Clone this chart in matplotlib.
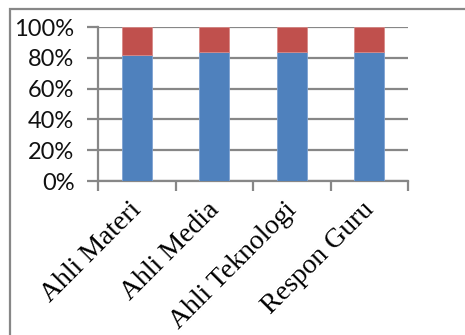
import numpy as np
import matplotlib
matplotlib.use("Agg")
import matplotlib.pyplot as plt
from matplotlib.patches import Rectangle
from matplotlib.ticker import PercentFormatter

# data
kategori = ["Ahli Materi", "Ahli Media", "Ahli Teknologi", "Respon Guru"]
layak = [82, 84, 84, 84]
tidak_layak = [18, 16, 16, 16]

biru = "#4F81BD"
merah = "#C0504D"
abu = "#878787"

fig = plt.figure(figsize=(4.65, 3.35), dpi=100)
ax = fig.add_axes([98 / 465, 1 - 181 / 335, 310 / 465, 154 / 335])

x = np.arange(len(kategori))
ax.bar(x, layak, width=0.39, color=biru, edgecolor="#7FA3D3", linewidth=0.6, zorder=3)
ax.bar(x, tidak_layak, bottom=layak, width=0.39, color=merah, edgecolor="#D88A88",
       linewidth=0.6, zorder=3)

ax.set_xlim(-0.5, len(kategori) - 0.5)
ax.set_ylim(0, 100)
ax.set_yticks(np.arange(0, 101, 20))
ax.yaxis.set_major_formatter(PercentFormatter(decimals=0))
ax.yaxis.grid(True, color=abu, linewidth=1.6, zorder=0)

# tick garis x di batas kategori
ax.set_xticks(np.arange(-0.5, len(kategori)), minor=False)
ax.set_xticklabels([])
ax.set_xticks(x - 0.1, minor=True)
ax.set_xticklabels(kategori, minor=True, rotation=45, ha="right",
                   rotation_mode="anchor", family="Liberation Serif", fontsize=20)
ax.tick_params(axis="x", which="major", length=7, width=1.6, color=abu)
ax.tick_params(axis="x", which="minor", length=0, pad=12)
ax.tick_params(axis="y", length=8, width=1.6, color=abu, labelsize=17, pad=9,
               labelcolor="#111111")
for lab in ax.get_yticklabels():
    lab.set_family("Lato")

for s in ["top", "right"]:
    ax.spines[s].set_visible(False)
for s in ["left", "bottom"]:
    ax.spines[s].set_color(abu)
    ax.spines[s].set_linewidth(1.6)

# bingkai luar
fig.patches.append(Rectangle((10 / 465, -0.1), 1.2, 1.1 - 9 / 335,
                             transform=fig.transFigure, fill=False,
                             edgecolor=abu, linewidth=1.6))

fig.savefig("out.png", dpi=100)
